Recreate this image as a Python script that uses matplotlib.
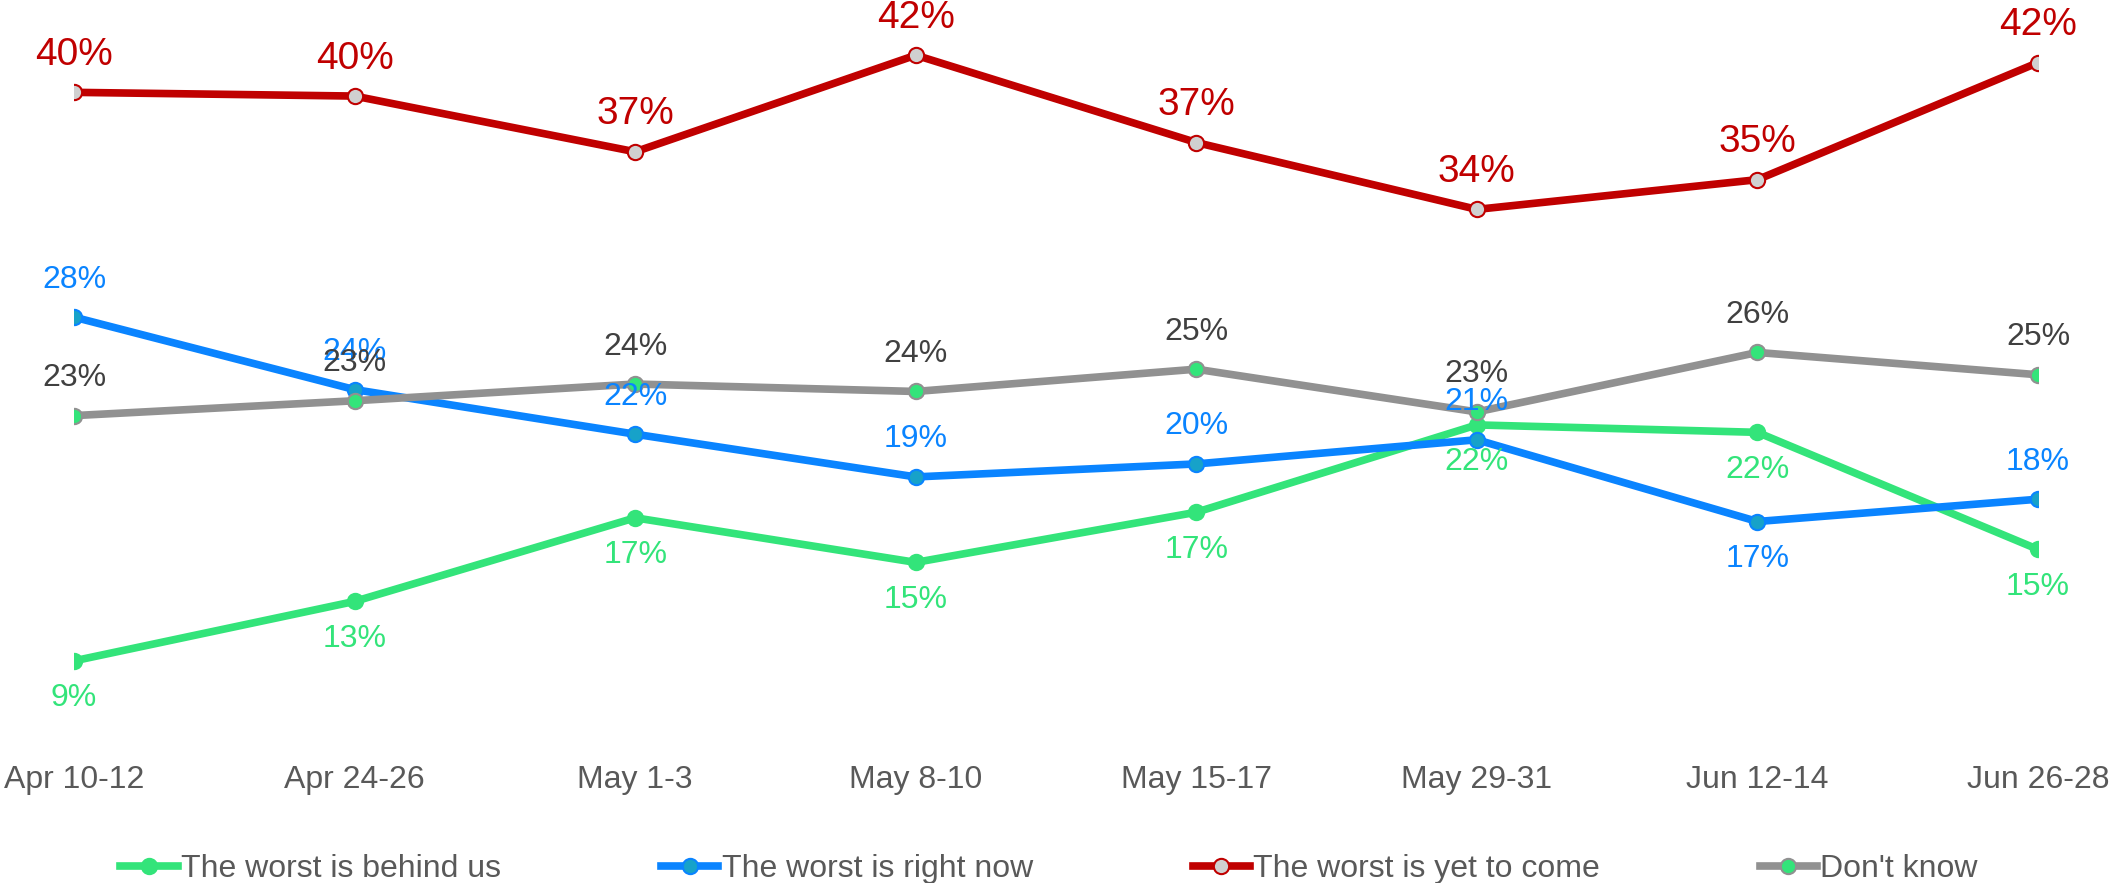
import matplotlib
matplotlib.use("Agg")
import matplotlib.pyplot as plt

plt.rcParams["font.family"] = ["Liberation Sans", "DejaVu Sans"]

# --- datos (%) ---
dates = ["Apr 10-12", "Apr 24-26", "May 1-3", "May 8-10",
         "May 15-17", "May 29-31", "Jun 12-14", "Jun 26-28"]
behind_us = [9.4, 12.6, 17.1, 14.7, 17.4, 22.1, 21.7, 15.4]
right_now = [27.9, 24.0, 21.6, 19.3, 20.0, 21.3, 16.9, 18.1]
yet_to_come = [40.0, 39.8, 36.8, 42.0, 37.3, 33.7, 35.3, 41.6]
dont_know = [22.6, 23.4, 24.3, 23.9, 25.1, 22.8, 26.0, 24.8]

GREEN = "#33e47a"
BLUE = "#0a84ff"
RED = "#c00000"
GRAY = "#919191"

# (valores, nombre, color línea, cara marcador, borde marcador, color etiqueta, lado etiqueta, tamaño)
series = [
    (behind_us, "The worst is behind us", GREEN, GREEN, GREEN, GREEN, [-1] * 8, 23),
    (right_now, "The worst is right now", BLUE, "#17a2c9", BLUE, BLUE,
     [1, 1, 1, 1, 1, 1, -1, 1], 23),
    (yet_to_come, "The worst is yet to come", RED, "#d0d0d0", RED, RED, [1] * 8, 28),
    (dont_know, "Don't know", GRAY, GREEN, GRAY, "#404040", [1] * 8, 23),
]

fig = plt.figure(figsize=(21.11, 8.83), dpi=100)
ax = fig.add_axes([0.0351, 0.159, 0.9303, 0.8311])

x = list(range(len(dates)))
handles = []
for vals, name, lc, mfc, mec, tc, sides, fs in series:
    h, = ax.plot(x, vals, "-o", color=lc, lw=5.5, ms=11, mfc=mfc, mec=mec,
                 mew=1.5, label=name)
    handles.append(h)
    for xi, v, s in zip(x, vals, sides):
        ax.annotate(f"{v:.0f}%", (xi, v), xytext=(0, 27 * s),
                    textcoords="offset points", ha="center", va="center",
                    fontsize=fs, color=tc)

ax.set_xlim(0, len(dates) - 1)
ax.set_ylim(5, 44.5)
ax.set_xticks(x)
ax.set_xticklabels(dates, fontsize=23, color="#595959")
ax.tick_params(axis="x", length=0, pad=16)
ax.set_yticks([])
for sp in ax.spines.values():
    sp.set_visible(False)

fig.legend(handles=handles, loc="center", bbox_to_anchor=(0.497, 0.016),
           ncol=4, frameon=False, fontsize=23, labelcolor="#595959",
           handlelength=1.8, handletextpad=0.1, columnspacing=5)

fig.savefig("out.png", dpi=100)
